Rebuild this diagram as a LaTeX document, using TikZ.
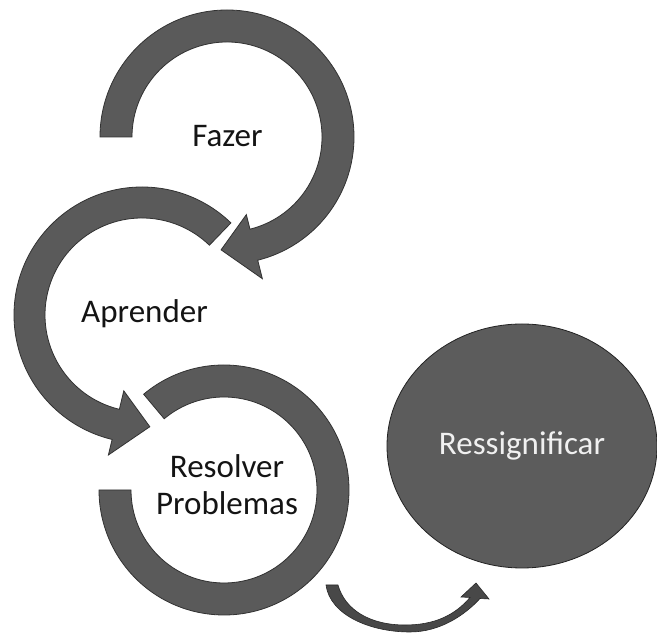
\documentclass[tikz,border=0pt]{standalone}
\usepackage{fontspec}
\setmainfont{Carlito}
\usetikzlibrary{shapes.geometric}
\definecolor{bandgray}{RGB}{90,90,90}
\definecolor{edgegray}{RGB}{50,50,50}
\definecolor{ellgray}{RGB}{92,92,92}
\definecolor{txtlight}{RGB}{240,240,240}
\definecolor{txtdark}{RGB}{20,20,20}
\begin{document}
\begin{tikzpicture}[x=1pt,y=1pt,
  band/.style={fill=bandgray, draw=edgegray, line width=0.8pt},
  thinarrow/.style={fill=bandgray!80!black, draw=edgegray!80!black, line width=0.6pt},
  lbl/.style={font=\fontsize{33}{37}\selectfont, text=txtdark, inner sep=0pt}]
\useasboundingbox (0,0) rectangle (657,635);
\fill[white] (0,0) rectangle (657,635);
\coordinate (c1) at (227,498);
\coordinate (c2) at (142,320);
\coordinate (c3) at (224,145);
% Fazer loop
\path[band] ([shift={(c1)}]180:127) arc[start angle=180,end angle=-76,radius=127]
  -- ([shift={(c1)}]-76:146) -- ([shift={(c1)}]-93:113) -- ([shift={(c1)}]-76:80)
  -- ([shift={(c1)}]-76:95) arc[start angle=-76,end angle=180,radius=95] -- cycle;
% Aprender loop
\path[band] ([shift={(c2)}]46:128) arc[start angle=46,end angle=256.5,radius=128]
  -- ([shift={(c2)}]256.5:144) -- ([shift={(c2)}]274:112) -- ([shift={(c2)}]256.5:78)
  -- ([shift={(c2)}]256.5:97) arc[start angle=256.5,end angle=46,radius=97] -- cycle;
% Resolver loop
\path[band] ([shift={(c3)}]130:125) arc[start angle=130,end angle=-180,radius=125]
  -- ([shift={(c3)}]180:93) arc[start angle=-180,end angle=130,radius=93] -- cycle;
% texts
\node[lbl, anchor=base] (fazer) at (227.5,488) {Fazer};
\node[lbl, anchor=base] (aprender) at (144.5,312) {Aprender};
\node[lbl, anchor=base, align=center] (resolver) at (227,120) {Resolver\\Problemas};
% ellipse
\node[ellipse, fill=ellgray, draw=edgegray!70!black, line width=0.8pt,
  minimum width=270pt, minimum height=244pt, inner sep=0pt,
  font=\fontsize{33}{37}\selectfont, text=txtlight] (ress) at (522,189) {Ressignificar};
% bottom curved arrow
\path[thinarrow] (326,50) .. controls (330,20) and (370,3) .. (410,3)
  .. controls (440,3) and (465,20) .. (480,36.5) -- (489,36) -- (476,52) -- (461,38)
  -- (470,37.5) .. controls (455,20) and (435,10) .. (405,10)
  .. controls (370,10) and (345,25) .. (338,50) -- cycle;
\end{tikzpicture}
\end{document}
